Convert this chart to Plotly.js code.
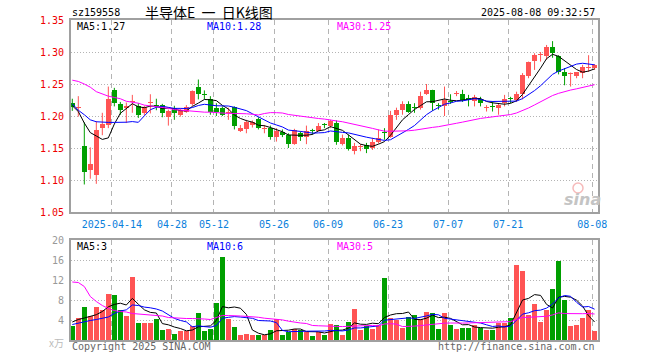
<!DOCTYPE html>
<html><head><meta charset="utf-8">
<script src="https://cdn.plot.ly/plotly-3.0.1.min.js"></script>
<style>html,body{margin:0;padding:0;background:#fff;}#chart{width:660px;height:360px;}</style>
</head><body><div id="chart"></div>
<script>
// ---------------- data ----------------
const dates = ['04-02','04-03','04-07','04-08','04-09','04-10','04-11',
 '04-14','04-15','04-16','04-17','04-18','04-21','04-22','04-23','04-24','04-25',
 '04-28','04-29','04-30','05-06','05-07','05-08','05-09',
 '05-12','05-13','05-14','05-15','05-16','05-19','05-20','05-21','05-22','05-23',
 '05-26','05-27','05-28','05-29','05-30','06-03','06-04','06-05','06-06',
 '06-09','06-10','06-11','06-12','06-13','06-16','06-17','06-18','06-19','06-20',
 '06-23','06-24','06-25','06-26','06-27','06-30','07-01','07-02','07-03','07-04',
 '07-07','07-08','07-09','07-10','07-11','07-14','07-15','07-16','07-17','07-18',
 '07-21','07-22','07-23','07-24','07-25','07-28','07-29','07-30','07-31','08-01',
 '08-04','08-05','08-06','08-07','08-08'];
const open  = [1.221,1.213,1.153,1.115,1.108,1.181,1.186,1.241,1.219,1.213,1.222,1.216,1.204,1.220,1.217,1.217,1.199,1.213,1.202,1.207,
 1.218,1.246,1.235,1.227,1.212,1.213,1.205,1.214,1.177,1.179,1.186,1.196,1.180,1.181,1.167,1.175,1.171,1.157,1.173,1.167,
 1.178,1.177,1.188,1.184,1.189,1.156,1.165,1.146,1.152,1.154,1.150,1.160,1.175,1.167,1.202,1.210,1.218,1.214,1.213,1.235,
 1.240,1.217,1.215,1.223,1.235,1.235,1.228,1.224,1.226,1.212,1.216,1.213,1.220,1.228,1.225,1.234,1.262,1.286,1.295,1.293,
 1.308,1.293,1.268,1.266,1.262,1.267,1.275,1.275];
const high  = [1.227,1.231,1.190,1.151,1.192,1.205,1.246,1.244,1.222,1.221,1.233,1.220,1.216,1.234,1.227,1.219,1.210,1.216,1.212,1.217,
 1.240,1.257,1.240,1.231,1.220,1.215,1.213,1.215,1.186,1.194,1.193,1.198,1.186,1.185,1.181,1.179,1.173,1.180,1.176,1.185,
 1.180,1.189,1.189,1.194,1.193,1.171,1.171,1.158,1.156,1.158,1.166,1.179,1.181,1.208,1.213,1.223,1.223,1.220,1.238,1.250,
 1.241,1.220,1.246,1.234,1.239,1.241,1.233,1.233,1.230,1.217,1.223,1.220,1.233,1.230,1.238,1.267,1.285,1.298,1.300,1.311,
 1.317,1.295,1.275,1.268,1.268,1.280,1.295,1.281];
const low   = [1.208,1.199,1.093,1.102,1.094,1.170,1.181,1.215,1.202,1.189,1.205,1.197,1.201,1.204,1.209,1.198,1.185,1.194,1.199,1.205,
 1.216,1.226,1.226,1.202,1.200,1.200,1.194,1.179,1.175,1.173,1.182,1.179,1.173,1.163,1.160,1.167,1.150,1.155,1.161,1.156,
 1.171,1.176,1.181,1.181,1.155,1.154,1.146,1.140,1.145,1.142,1.147,1.157,1.163,1.166,1.194,1.202,1.205,1.205,1.210,1.233,
 1.208,1.210,1.200,1.219,1.231,1.222,1.215,1.215,1.215,1.207,1.207,1.202,1.215,1.220,1.222,1.226,1.259,1.272,1.285,1.288,
 1.291,1.265,1.248,1.246,1.259,1.259,1.269,1.272];
const close = [1.214,1.214,1.113,1.125,1.178,1.187,1.226,1.221,1.209,1.216,1.224,1.202,1.214,1.221,1.216,1.204,1.208,1.205,1.209,1.214,
 1.239,1.234,1.233,1.207,1.207,1.202,1.206,1.185,1.181,1.190,1.190,1.182,1.181,1.167,1.176,1.171,1.157,1.178,1.167,1.177,
 1.177,1.185,1.186,1.192,1.160,1.165,1.149,1.153,1.153,1.149,1.159,1.166,1.173,1.202,1.210,1.219,1.207,1.213,1.232,1.240,
 1.220,1.216,1.225,1.222,1.236,1.225,1.225,1.230,1.220,1.214,1.214,1.217,1.227,1.227,1.234,1.264,1.284,1.296,1.296,1.308,
 1.298,1.268,1.262,1.267,1.268,1.277,1.277,1.279];
// volume, unit: 万
const volume = [2.8,4.5,6.6,4.8,6.6,6.0,9.2,9.0,6.0,4.8,12.6,3.4,3.4,3.4,4.2,2.0,2.2,1.2,1.9,1.9,
 2.8,5.4,1.8,2.2,7.4,16.6,4.2,2.6,1.0,1.2,1.0,1.0,1.0,2.0,4.2,1.0,1.6,2.2,2.0,1.6,
 0.8,1.6,1.0,3.3,3.0,1.0,3.6,6.2,2.0,2.8,2.2,3.1,12.4,4.5,4.1,2.4,4.6,5.0,4.2,5.6,
 5.4,2.2,5.4,3.0,2.2,2.4,2.4,3.0,2.4,2.0,2.0,3.4,3.4,4.4,15.0,13.8,5.0,7.2,3.6,6.0,
 10.2,15.8,8.0,2.8,3.0,4.4,6.0,1.8];
// moving-average values read off the picture where the earlier closes are not shown
const ma5Head  = [1.216,1.207,1.189,1.174];
const ma10Head = [1.219,1.209,1.202,1.194,1.191,1.190,1.190,1.190,1.190];
const ma30Head = [1.256,1.254,1.250,1.245,1.238,1.234,1.231,1.229,1.227,1.223,1.222,1.220,1.217,1.216,1.214,
 1.213,1.212,1.210,1.209,1.208,1.207,1.207,1.206,1.206,1.205,1.205,1.204,1.204,1.204];
const vma5Head  = [3.6,4.1,4.4,4.7];
const vma10Head = [3.1,3.4,3.7,3.9,4.1,4.3,4.6,5.3,5.8];
const vma30Head = [11.6,11.5,10.7,8.7,7.7,6.9,6.3,5.9,5.7,5.6,5.3,5.2,5.1,5.1,5.0,4.8,4.5,4.4,4.4,4.3,
 4.3,4.3,4.2,4.1,4.5,4.9,4.9,4.9,4.8];
const priceTicks = [1.05,1.10,1.15,1.20,1.25,1.30,1.35];
const volTicks = [4,8,12,16,20];
const tickDates = ['04-14','04-28','05-12','05-26','06-09','06-23','07-07','07-21','08-08'];
const tickText  = ['2025-04-14','04-28','05-12','05-26','06-09','06-23','07-07','07-21','08-08'];
const codeLabel = 'sz159558';
const titleText = '半导体E\u00a0\u00a0一\u00a0\u00a0日K线图';
const stampText = '2025-08-08 09:32:57';
const priceMaLabels = ['MA5:1.27','MA10:1.28','MA30:1.25'];
const volMaLabels = ['MA5:3','MA10:6','MA30:5'];
const unitLabel = 'x万';
const copyText = 'Copyright 2025 SINA.COM';
const urlText = 'http://finance.sina.com.cn';

// ---------------- derived ----------------
const N = dates.length;
const idx = dates.map((d,i)=>i);
function ma(vals, n, head){
  return vals.map((v,i)=>{
    if(i < n-1) return head[i];
    let s=0; for(let k=i-n+1;k<=i;k++) s+=vals[k]; return s/n;
  });
}
const up = idx.map(i=>close[i]>=open[i]);
const RED='#ff5454', GREEN='#009f00';
const cols = up.map(u=>u?RED:GREEN);
const MIN_BODY = 0.0016;

function wicks(sel){
  const x=[],y=[];
  idx.forEach(i=>{ if(up[i]===sel){ x.push(i,i,null); y.push(low[i],high[i],null);} });
  return {x,y};
}
const wu = wicks(true), wd = wicks(false);

const MA_COLS = ['#000000','#0000ff','#ff00ff'];
const pMA = [ma(close,5,ma5Head), ma(close,10,ma10Head), ma(close,30,ma30Head)];
const vMA = [ma(volume,5,vma5Head), ma(volume,10,vma10Head), ma(volume,30,vma30Head)];

const traces = [
  {type:'scatter',mode:'lines',x:wu.x,y:wu.y,line:{color:RED,width:1},hoverinfo:'skip',xaxis:'x',yaxis:'y'},
  {type:'scatter',mode:'lines',x:wd.x,y:wd.y,line:{color:GREEN,width:1},hoverinfo:'skip',xaxis:'x',yaxis:'y'},
  {type:'bar',x:idx,base:idx.map(i=>Math.min(open[i],close[i])),
   y:idx.map(i=>Math.max(Math.abs(close[i]-open[i]),MIN_BODY)),
   width:0.8,marker:{color:cols,line:{width:0}},hoverinfo:'skip',xaxis:'x',yaxis:'y'},
  {type:'bar',x:idx,y:volume,width:0.8,marker:{color:cols,line:{width:0}},hoverinfo:'skip',xaxis:'x2',yaxis:'y2'}
];
pMA.forEach((m,k)=>traces.push({type:'scatter',mode:'lines',x:idx,y:m,line:{color:MA_COLS[k],width:1},hoverinfo:'skip',xaxis:'x',yaxis:'y'}));
vMA.forEach((m,k)=>traces.push({type:'scatter',mode:'lines',x:idx,y:m,line:{color:MA_COLS[k],width:1},hoverinfo:'skip',xaxis:'x2',yaxis:'y2'}));

// ---------------- layout ----------------
const W=660,H=360,ML=71,MR=62,MT=20,MB=20;
const PW=W-ML-MR, PH=H-MT-MB;
const fx = x=>(x-ML)/PW, fy = y=>(H-MB-y)/PH;
const MONO='DejaVu Sans Mono, Liberation Mono, monospace';
const tickPos = tickDates.map(d=>dates.indexOf(d)-0.4);
const xr=[-0.217, N-1+0.567];
const GRIDC='#b4b4b4', LINEC='#a0a0a0';
const xBase = {range:xr,tickmode:'array',tickvals:tickPos,ticktext:tickText,showgrid:true,gridcolor:GRIDC,
  griddash:'5px,4px',gridwidth:1,showline:true,linecolor:LINEC,linewidth:2,mirror:true,zeroline:false,
  ticks:'outside',ticklen:2,tickcolor:'rgba(0,0,0,0)',fixedrange:true};
const ann = (x,y,text,color,anchor,size,family,extra)=>Object.assign({xref:'paper',yref:'paper',x:fx(x),y:fy(y),
  text:text,showarrow:false,xanchor:anchor,yanchor:'middle',font:{family:family||MONO,size:size||10,color:color}},extra||{});
const annotations = [
  ann(70,13,codeLabel,'#000','left'),
  ann(209,12,titleText,'#000','center',14,'Noto Sans CJK SC'),
  ann(597,13,stampText,'#000','right'),
  ann(75,26,priceMaLabels[0],MA_COLS[0],'left'),
  ann(205,26,priceMaLabels[1],MA_COLS[1],'left'),
  ann(335,26,priceMaLabels[2],MA_COLS[2],'left'),
  ann(75,246,volMaLabels[0],MA_COLS[0],'left'),
  ann(205,246,volMaLabels[1],MA_COLS[1],'left'),
  ann(335,246,volMaLabels[2],MA_COLS[2],'left'),
  ann(66,342,unitLabel,'#bbbbbb','right',10,'Noto Sans CJK SC'),
  ann(70,346,copyText,'#666666','left'),
  ann(597,346,urlText,'#666666','right'),
  ann(582,199,'<b><i>sina</i></b>','#c4c4c4','center',16,'DejaVu Sans')
];
const shapes = [
  {type:'circle',xref:'paper',yref:'paper',x0:fx(573),x1:fx(583),y0:fy(193),y1:fy(183),
   line:{color:'rgba(240,140,140,0.6)',width:1.5},fillcolor:'rgba(0,0,0,0)'}
];
const layout = {
  width:W,height:H,margin:{l:ML,r:MR,t:MT,b:MB,pad:0},paper_bgcolor:'#fff',plot_bgcolor:'#fff',
  showlegend:false,barmode:'overlay',bargap:0,hovermode:false,
  xaxis:Object.assign({},xBase,{anchor:'y',domain:[0,1],tickfont:{family:MONO,size:10,color:'#0a80dc'}}),
  xaxis2:Object.assign({},xBase,{anchor:'y2',domain:[0,1],matches:'x',showticklabels:false}),
  yaxis:{domain:[fy(212),1],range:[priceTicks[0],priceTicks[priceTicks.length-1]],tickmode:'array',tickvals:priceTicks,
    ticktext:priceTicks.map(v=>v.toFixed(2)),tickfont:{family:MONO,size:10,color:'#ee0000'},showgrid:true,gridcolor:GRIDC,
    griddash:'1px,2px',showline:true,linecolor:LINEC,linewidth:2,mirror:true,zeroline:false,
    ticks:'outside',ticklen:3,tickcolor:'rgba(0,0,0,0)',fixedrange:true},
  yaxis2:{domain:[0,fy(240)],range:[0,20],tickmode:'array',tickvals:volTicks,tickfont:{family:MONO,size:10,color:'#999999'},
    showgrid:true,gridcolor:GRIDC,griddash:'1px,2px',showline:true,linecolor:LINEC,linewidth:2,mirror:true,zeroline:false,
    ticks:'outside',ticklen:3,tickcolor:'rgba(0,0,0,0)',fixedrange:true},
  annotations:annotations,shapes:shapes
};
Plotly.newPlot('chart',traces,layout,{displayModeBar:false,staticPlot:true});
</script></body></html>
